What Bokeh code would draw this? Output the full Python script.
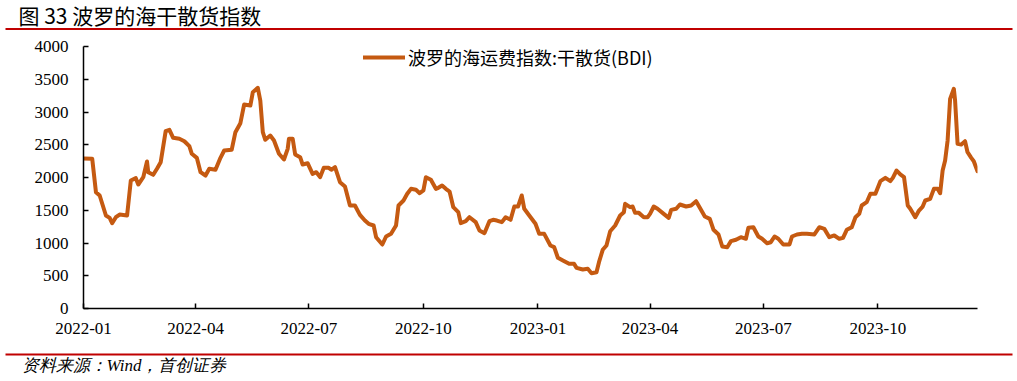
import pandas as pd
from bokeh.plotting import figure
from bokeh.models import (FixedTicker, DatetimeTickFormatter, Range1d, Label,
                          BoxAnnotation, Legend, LegendItem, ColumnDataSource)
from bokeh.embed import file_html
from bokeh.resources import INLINE

title_text = "图 33 波罗的海干散货指数"
series_name = "波罗的海运费指数:干散货(BDI)"
source_text = "资料来源：Wind，首创证券"

x_tick_labels = ["2022-01", "2022-04", "2022-07", "2022-10",
                 "2023-01", "2023-04", "2023-07", "2023-10"]
y_ticks = [0, 500, 1000, 1500, 2000, 2500, 3000, 3500, 4000]

dates = [
    "2022-01-01", "2022-01-08", "2022-01-11", "2022-01-14", "2022-01-19", "2022-01-22",
    "2022-01-24", "2022-01-27", "2022-01-30", "2022-02-05", "2022-02-08", "2022-02-12",
    "2022-02-14", "2022-02-18", "2022-02-21", "2022-02-22", "2022-02-26", "2022-03-01",
    "2022-03-04", "2022-03-08", "2022-03-11", "2022-03-14", "2022-03-19", "2022-03-23",
    "2022-03-27", "2022-03-29", "2022-04-02", "2022-04-05", "2022-04-09", "2022-04-12",
    "2022-04-17", "2022-04-21", "2022-04-24", "2022-04-30", "2022-05-03", "2022-05-07",
    "2022-05-10", "2022-05-15", "2022-05-17", "2022-05-21", "2022-05-23", "2022-05-25",
    "2022-05-27", "2022-05-31", "2022-06-03", "2022-06-07", "2022-06-11", "2022-06-14",
    "2022-06-15", "2022-06-18", "2022-06-20", "2022-06-24", "2022-06-26", "2022-06-30",
    "2022-07-04", "2022-07-07", "2022-07-10", "2022-07-13", "2022-07-17", "2022-07-19",
    "2022-07-22", "2022-07-26", "2022-07-30", "2022-08-03", "2022-08-07", "2022-08-11",
    "2022-08-15", "2022-08-18", "2022-08-22", "2022-08-24", "2022-08-29", "2022-09-01",
    "2022-09-05", "2022-09-09", "2022-09-11", "2022-09-15", "2022-09-18", "2022-09-21",
    "2022-09-25", "2022-09-28", "2022-10-01", "2022-10-03", "2022-10-07", "2022-10-11",
    "2022-10-13", "2022-10-16", "2022-10-19", "2022-10-22", "2022-10-25", "2022-10-29",
    "2022-10-31", "2022-11-04", "2022-11-07", "2022-11-12", "2022-11-15", "2022-11-19",
    "2022-11-23", "2022-11-26", "2022-11-29", "2022-12-03", "2022-12-06", "2022-12-10",
    "2022-12-13", "2022-12-16", "2022-12-19", "2022-12-21", "2022-12-25", "2022-12-30",
    "2023-01-02", "2023-01-06", "2023-01-11", "2023-01-14", "2023-01-17", "2023-01-21",
    "2023-01-26", "2023-01-30", "2023-02-01", "2023-02-06", "2023-02-10", "2023-02-13",
    "2023-02-17", "2023-02-19", "2023-02-22", "2023-02-25", "2023-02-28", "2023-03-04",
    "2023-03-08", "2023-03-11", "2023-03-12", "2023-03-16", "2023-03-18", "2023-03-20",
    "2023-03-23", "2023-03-27", "2023-03-30", "2023-04-01", "2023-04-04", "2023-04-07",
    "2023-04-12", "2023-04-16", "2023-04-18", "2023-04-22", "2023-04-25", "2023-04-30",
    "2023-05-04", "2023-05-08", "2023-05-11", "2023-05-15", "2023-05-19", "2023-05-22",
    "2023-05-26", "2023-05-29", "2023-06-02", "2023-06-05", "2023-06-09", "2023-06-13",
    "2023-06-17", "2023-06-19", "2023-06-23", "2023-06-27", "2023-06-30", "2023-07-04",
    "2023-07-07", "2023-07-10", "2023-07-13", "2023-07-17", "2023-07-22", "2023-07-24",
    "2023-07-28", "2023-08-01", "2023-08-05", "2023-08-11", "2023-08-15", "2023-08-19",
    "2023-08-23", "2023-08-27", "2023-08-31", "2023-09-03", "2023-09-06", "2023-09-10",
    "2023-09-13", "2023-09-16", "2023-09-18", "2023-09-22", "2023-09-25", "2023-09-29",
    "2023-10-03", "2023-10-07", "2023-10-11", "2023-10-13", "2023-10-16", "2023-10-19",
    "2023-10-22", "2023-10-25", "2023-10-27", "2023-10-31", "2023-11-03", "2023-11-06",
    "2023-11-08", "2023-11-12", "2023-11-15", "2023-11-18", "2023-11-20", "2023-11-22",
    "2023-11-24", "2023-11-26", "2023-11-28", "2023-12-01", "2023-12-02", "2023-12-04",
    "2023-12-07", "2023-12-10", "2023-12-12", "2023-12-15", "2023-12-17", "2023-12-20",
]

bdi = [
    2290, 2285, 1776, 1725, 1420, 1384,
    1303, 1394, 1435, 1420, 1954, 1990,
    1893, 2005, 2244, 2081, 2041, 2133,
    2234, 2707, 2728, 2606, 2591, 2554,
    2478, 2362, 2300, 2081, 2030, 2133,
    2118, 2300, 2412, 2423, 2692, 2829,
    3114, 3099, 3303, 3369, 3175, 2692,
    2576, 2641, 2565, 2362, 2275, 2438,
    2591, 2591, 2351, 2310, 2198, 2218,
    2056, 2081, 2005, 2148, 2148, 2118,
    2158, 1928, 1862, 1573, 1573, 1430,
    1343, 1293, 1267, 1089, 977, 1099,
    1140, 1267, 1573, 1649, 1751, 1827,
    1812, 1760, 1802, 2005, 1965, 1827,
    1843, 1878, 1827, 1786, 1547, 1471,
    1303, 1333, 1394, 1318, 1191, 1150,
    1333, 1354, 1343, 1318, 1394, 1354,
    1557, 1557, 1725, 1522, 1420, 1293,
    1140, 1140, 962, 936, 774, 733,
    682, 682, 621, 595, 606, 539,
    554, 707, 896, 962, 1180, 1267,
    1420, 1471, 1598, 1547, 1557, 1460,
    1460, 1394, 1394, 1445, 1557, 1522,
    1445, 1384, 1506, 1522, 1588, 1557,
    1573, 1638, 1537, 1405, 1369, 1201,
    1130, 947, 936, 1028, 1049, 1089,
    1064, 1232, 1241, 1099, 1064, 997,
    1012, 1099, 1064, 977, 977, 1099,
    1130, 1140, 1140, 1130, 1241, 1216,
    1089, 1115, 1064, 1079, 1201, 1241,
    1394, 1445, 1573, 1623, 1751, 1751,
    1944, 1995, 1944, 1995, 2107, 2046,
    2005, 1573, 1522, 1394, 1496, 1557,
    1649, 1675, 1827, 1827, 1760, 2107,
    2260, 2565, 3201, 3354, 3175, 2514,
    2504, 2554, 2386, 2300, 2249, 2096,
]

x_start = "2022-01-01"
x_end = "2023-12-20"
y_max = 4000

line_color = "#C55A11"
red = "#C00000"
serif = "Liberation Serif"
cjk = "Noto Sans CJK SC"

W = 1015
TOP_H, MAIN_H, BOT_H = 38, 306, 35
AXIS_PX = 262      # pixel height of the 0..4000 span
HEADROOM_PX = 8    # free frame space above 4000 (keeps the legend text inside)


def strip_fig(height):
    f = figure(width=W, height=height, output_backend="svg", toolbar_location=None,
               x_range=Range1d(0, W), y_range=Range1d(0, height),
               x_axis_location=None, y_axis_location=None,
               min_border=0, min_border_left=0, min_border_right=0,
               min_border_top=0, min_border_bottom=0)
    f.outline_line_color = None
    f.xgrid.visible = False
    f.ygrid.visible = False
    f.border_fill_color = "white"
    f.background_fill_color = "white"
    return f


# --- header strip: title and red rule ---
top = strip_fig(TOP_H)
top.add_layout(Label(x=18, y=TOP_H - 14, text=title_text, text_font=cjk,
                     text_font_size="21px", text_baseline="middle",
                     text_color="black"))
top.add_layout(BoxAnnotation(left=5, right=1012, bottom=TOP_H - 29.5,
                             top=TOP_H - 27.5, fill_color=red, fill_alpha=1,
                             line_alpha=0))

# --- main chart ---
src = ColumnDataSource(data=dict(date=pd.to_datetime(dates), bdi=bdi))
p = figure(width=W, height=MAIN_H, x_axis_type="datetime",
           output_backend="svg", toolbar_location=None,
           x_range=Range1d(pd.Timestamp(x_start), pd.Timestamp(x_end)),
           y_range=Range1d(0, y_max * (AXIS_PX + HEADROOM_PX) / AXIS_PX),
           min_border_left=83, min_border_right=W - 977,
           min_border_top=8 - HEADROOM_PX, min_border_bottom=36)
p.outline_line_color = None
p.xgrid.visible = False
p.ygrid.visible = False
p.background_fill_color = "white"
p.border_fill_color = "white"

r = p.line("date", "bdi", source=src, line_color=line_color, line_width=4,
           line_join="round", line_cap="round")

tick_ms = [pd.Timestamp(t + "-01").value // 10**6 for t in x_tick_labels]
p.xaxis.ticker = FixedTicker(ticks=tick_ms)
fmt = "%Y-%m"
p.xaxis.formatter = DatetimeTickFormatter(
    milliseconds=fmt, seconds=fmt, minsec=fmt, minutes=fmt, hourmin=fmt,
    hours=fmt, days=fmt, months=fmt, years=fmt)
p.yaxis.ticker = FixedTicker(ticks=y_ticks)
p.yaxis.bounds = (0, y_max)

for ax in (p.xaxis, p.yaxis):
    ax.axis_line_color = "black"
    ax.axis_line_width = 1.5
    ax.major_tick_line_color = "black"
    ax.major_tick_line_width = 1.5
    ax.major_tick_in = 5
    ax.major_tick_out = 0
    ax.minor_tick_line_color = None
    ax.major_label_text_font = serif
    ax.major_label_text_font_size = "17px"
    ax.major_label_text_color = "black"
p.xaxis.major_label_standoff = 14
p.yaxis.major_label_standoff = 15

legend = Legend(items=[LegendItem(label=series_name, renderers=[r])],
                location=(280, 238), orientation="horizontal",
                glyph_width=42, glyph_height=26, label_height=26,
                label_width=260,
                label_standoff=3, padding=0, margin=0, spacing=0,
                border_line_alpha=0, background_fill_alpha=0,
                label_text_font=cjk, label_text_font_size="18px",
                label_text_color="black")
p.add_layout(legend)

# --- footer strip: red rule and source ---
bot = strip_fig(BOT_H)
bot.add_layout(BoxAnnotation(left=5, right=1012, bottom=BOT_H - 11,
                             top=BOT_H - 9, fill_color=red, fill_alpha=1,
                             line_alpha=0))
bot.add_layout(Label(x=21, y=BOT_H - 21, text=source_text, text_font=serif,
                     text_font_size="17px", text_font_style="italic",
                     text_baseline="middle", text_color="black"))

# three separate roots, stacked, so that each strip keeps its own full-width frame
open("out.html", "w").write(file_html([top, p, bot], INLINE))
